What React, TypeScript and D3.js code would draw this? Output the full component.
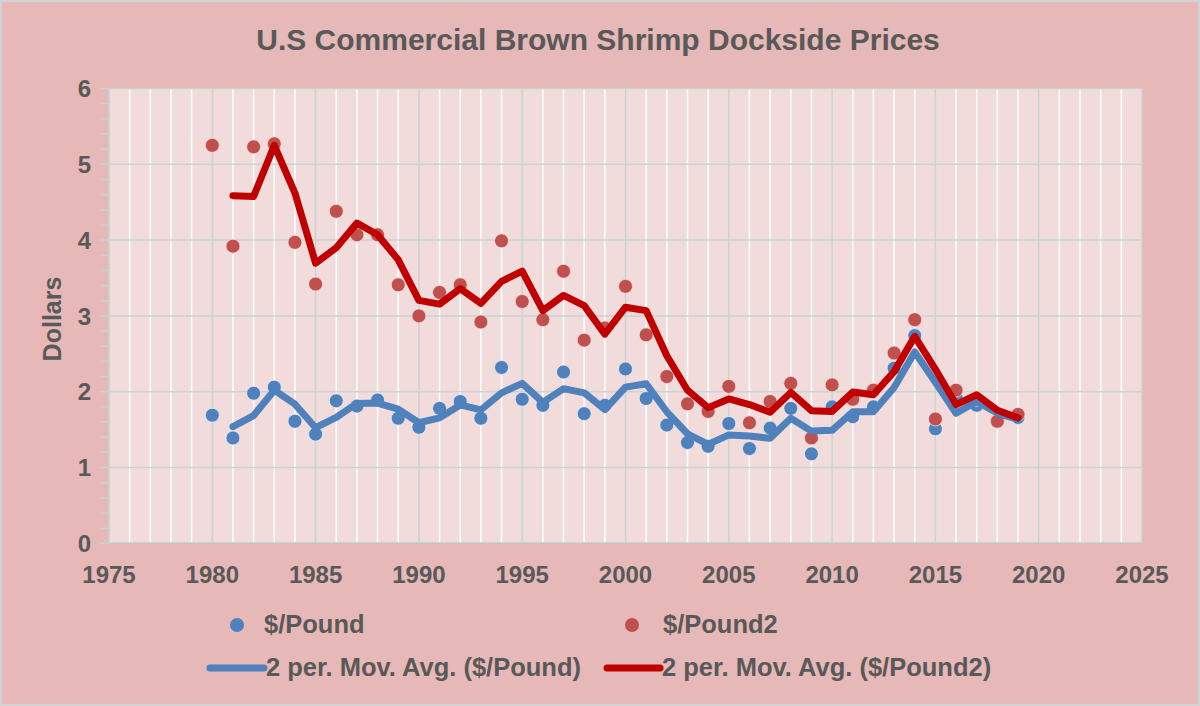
import React from "react";
import * as d3 from "d3";

const years = [
  1980, 1981, 1982, 1983, 1984, 1985, 1986, 1987, 1988, 1989,
  1990, 1991, 1992, 1993, 1994, 1995, 1996, 1997, 1998, 1999,
  2000, 2001, 2002, 2003, 2004, 2005, 2006, 2007, 2008, 2009,
  2010, 2011, 2012, 2013, 2014, 2015, 2016, 2017, 2018, 2019,
];
const pricePound = [
  1.69, 1.39, 1.98, 2.06, 1.61, 1.44, 1.88, 1.81, 1.89, 1.65,
  1.53, 1.78, 1.87, 1.65, 2.32, 1.9, 1.82, 2.26, 1.71, 1.82,
  2.3, 1.91, 1.56, 1.33, 1.28, 1.58, 1.25, 1.52, 1.78, 1.18,
  1.8, 1.67, 1.8, 2.31, 2.74, 1.51, 1.92, 1.82, 1.61, 1.66,
];
const pricePound2 = [
  5.25, 3.92, 5.23, 5.27, 3.97, 3.42, 4.38, 4.07, 4.07, 3.41,
  3.0, 3.31, 3.41, 2.92, 3.99, 3.19, 2.95, 3.59, 2.68, 2.84,
  3.39, 2.75, 2.2, 1.84, 1.74, 2.07, 1.59, 1.87, 2.11, 1.39,
  2.09, 1.9, 2.02, 2.51, 2.95, 1.64, 2.02, 1.9, 1.61, 1.7,
];
const xTicks = [1975, 1980, 1985, 1990, 1995, 2000, 2005, 2010, 2015, 2020, 2025];
const yTicks = [0, 1, 2, 3, 4, 5, 6];

const title = "U.S Commercial Brown Shrimp Dockside Prices";
const yTitle = "Dollars";
const seriesNames = ["$/Pound", "$/Pound2", "2 per. Mov. Avg. ($/Pound)", "2 per. Mov. Avg. ($/Pound2)"];

const W = 1200;
const H = 706;
const plot = { left: 109, right: 1142, top: 88.5, bottom: 543.3 };
const FONT = "'Liberation Sans', Arial, sans-serif";
const TXT = "#595959";
const GRID = "#c9d3d2";
const BLUE = "#4f81bd";
const REDDOT = "#c0504d";
const REDLINE = "#c00000";

function movAvg(vals: number[]) {
  const out: { x: number; y: number }[] = [];
  for (let i = 1; i < vals.length; i++) {
    out.push({ x: years[i], y: (vals[i] + vals[i - 1]) / 2 });
  }
  return out;
}

export default function App() {
  const x = d3.scaleLinear().domain([1975, 2025]).range([plot.left, plot.right]);
  const y = d3.scaleLinear().domain([0, 6]).range([plot.bottom, plot.top]);
  const line = d3
    .line<{ x: number; y: number }>()
    .x((d) => x(d.x))
    .y((d) => y(d.y));

  const minorYears = d3.range(1976, 2025).filter((v) => v % 5 !== 0);
  const minorY = d3.range(1, 30).map((i) => i * 0.2).filter((v) => Math.abs(v - Math.round(v)) > 1e-6);

  const maBlue = movAvg(pricePound);
  const maRed = movAvg(pricePound2);

  return (
    <div style={{ position: "absolute", left: 0, top: 0 }}>
      <svg width={W} height={H} style={{ display: "block" }} fontFamily={FONT}>
        <rect x={0} y={0} width={W} height={H} fill="#e6b8b7" />
        <rect x={1} y={1} width={W - 2} height={H - 2} fill="none" stroke="#d2d2d2" strokeWidth={2} />
        <text x={598} y={50} textAnchor="middle" fontSize={30} fontWeight="bold" fill={TXT}>
          {title}
        </text>

        {/* plot area */}
        <rect
          x={plot.left}
          y={plot.top}
          width={plot.right - plot.left}
          height={plot.bottom - plot.top}
          fill="#f2dcdb"
        />
        {minorYears.map((v) => (
          <line key={"mx" + v} x1={x(v)} x2={x(v)} y1={plot.top} y2={plot.bottom} stroke="#ffffff" strokeWidth={1.5} />
        ))}
        {xTicks.map((v) => (
          <line key={"gx" + v} x1={x(v)} x2={x(v)} y1={plot.top} y2={plot.bottom} stroke={GRID} strokeWidth={1.5} />
        ))}
        {yTicks.map((v) => (
          <line key={"gy" + v} x1={plot.left - 9} x2={plot.right} y1={y(v)} y2={y(v)} stroke={GRID} strokeWidth={1.5} />
        ))}
        {minorY.map((v) => (
          <line key={"my" + v} x1={plot.left - 8} x2={plot.left} y1={y(v)} y2={y(v)} stroke={GRID} strokeWidth={1.5} />
        ))}
        <line x1={plot.left} x2={plot.left} y1={plot.top} y2={plot.bottom} stroke={GRID} strokeWidth={1.5} />
        <line x1={plot.left} x2={plot.right} y1={plot.bottom} y2={plot.bottom} stroke="#bfc8c8" strokeWidth={1.5} />

        {/* axis labels */}
        {yTicks.map((v) => (
          <text key={"ty" + v} x={91} y={y(v)} dy="0.36em" textAnchor="end" fontSize={24} fontWeight="bold" fill={TXT}>
            {v}
          </text>
        ))}
        {xTicks.map((v) => (
          <text key={"tx" + v} x={x(v)} y={583} textAnchor="middle" fontSize={24} fontWeight="bold" fill={TXT}>
            {v}
          </text>
        ))}
        <text
          transform="translate(61,319) rotate(-90)"
          textAnchor="middle"
          fontSize={25}
          fontWeight="bold"
          fill={TXT}
        >
          {yTitle}
        </text>

        {/* series */}
        {years.map((yr, i) => (
          <circle key={"b" + yr} cx={x(yr)} cy={y(pricePound[i])} r={7} fill={BLUE} stroke="#eaf0f7" strokeWidth={0.8} />
        ))}
        {years.map((yr, i) => (
          <circle key={"r" + yr} cx={x(yr)} cy={y(pricePound2[i])} r={7} fill={REDDOT} stroke="#f4dede" strokeWidth={0.8} />
        ))}
        <path d={line(maBlue) || ""} fill="none" stroke={BLUE} strokeWidth={7} strokeLinejoin="round" strokeLinecap="round" />
        <path d={line(maRed) || ""} fill="none" stroke={REDLINE} strokeWidth={7} strokeLinejoin="round" strokeLinecap="round" />

        {/* legend */}
        <circle cx={237} cy={625} r={7} fill={BLUE} />
        <text x={264} y={633} fontSize={25.5} fontWeight="bold" fill={TXT}>
          {seriesNames[0]}
        </text>
        <circle cx={632} cy={625} r={7} fill={REDDOT} />
        <text x={663} y={633} fontSize={25.5} fontWeight="bold" fill={TXT}>
          {seriesNames[1]}
        </text>
        <line x1={210} x2={264} y1={668} y2={668} stroke={BLUE} strokeWidth={7} strokeLinecap="round" />
        <text x={266} y={676} fontSize={25.5} fontWeight="bold" fill={TXT}>
          {seriesNames[2]}
        </text>
        <line x1={607} x2={660} y1={668} y2={668} stroke={REDLINE} strokeWidth={7} strokeLinecap="round" />
        <text x={662} y={676} fontSize={25.5} fontWeight="bold" fill={TXT}>
          {seriesNames[3]}
        </text>
      </svg>
    </div>
  );
}
